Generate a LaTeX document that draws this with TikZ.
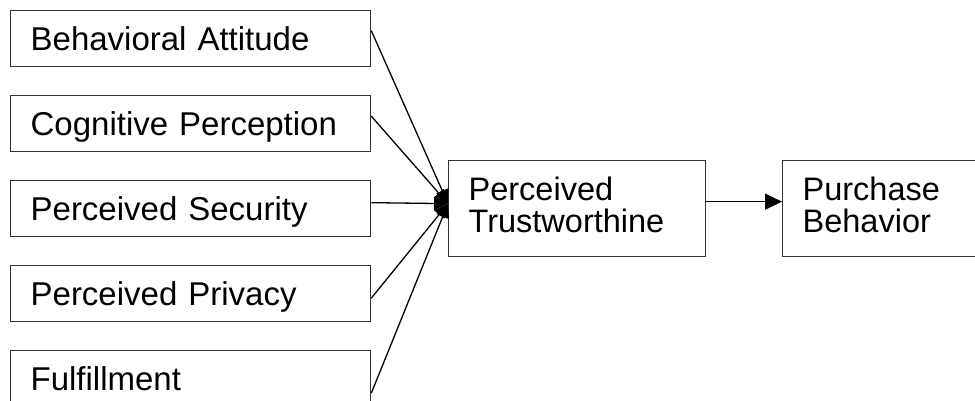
\documentclass[tikz,border=0pt]{standalone}
\usepackage{fontspec}
\setmainfont{Liberation Sans}
\usetikzlibrary{calc,arrows.meta}

\begin{document}
\begin{tikzpicture}[x=1pt, y=-1pt,
    factor/.style={draw=black!80, line width=1.3pt, anchor=north west, inner xsep=20pt, inner ysep=0pt,
      text width=320pt, minimum height=56pt, align=left, text height=23pt, text depth=0pt,
      font=\fontsize{33}{32}\selectfont},
    result/.style={draw=black!80, line width=1.3pt, anchor=north west, inner xsep=20pt, inner ysep=0pt,
      minimum height=96pt, align=left, text depth=40pt, font=\fontsize{32.5}{32}\selectfont},
    link/.style={line width=1.3pt, -{Triangle[length=14pt,width=13pt]}}]
    \clip (0,0) rectangle (975,400);
    \fill [white] (0,0) rectangle (975,400);

    \node [factor] (attitude) at (10,10) {Behavioral Attitude};
    \node [factor] (cognition) at (10,95) {Cognitive Perception};
    \node [factor] (security) at (10,180) {Perceived Security};
    \node [factor] (privacy) at (10,265) {Perceived Privacy};
    \node [factor] (fulfil) at (10,350) {Fulfillment};

    \node [result, text width=217pt] (trust) at (448,160) {Perceived\\Trustworthine};
    \node [result, text width=200pt] (purchase) at (782,160) {Purchase\\Behavior};

    \coordinate (hub) at ([yshift=5pt]trust.west);

    \draw [link] ([yshift=8pt]attitude.east) -- (hub);
    \draw [link] ([yshift=7.5pt]cognition.east) -- (hub);
    \draw [link] ([yshift=6pt]security.east) -- (hub);
    \draw [link] ([yshift=-4.5pt]privacy.east) -- (hub);
    \draw [link] ([yshift=-14.5pt]fulfil.east) -- (hub);

    \draw [line width=1.3pt, -{Triangle[length=17pt,width=16pt]}] ([yshift=7pt]trust.east) -- ([yshift=7pt]purchase.west);
  \end{tikzpicture}
\end{document}
